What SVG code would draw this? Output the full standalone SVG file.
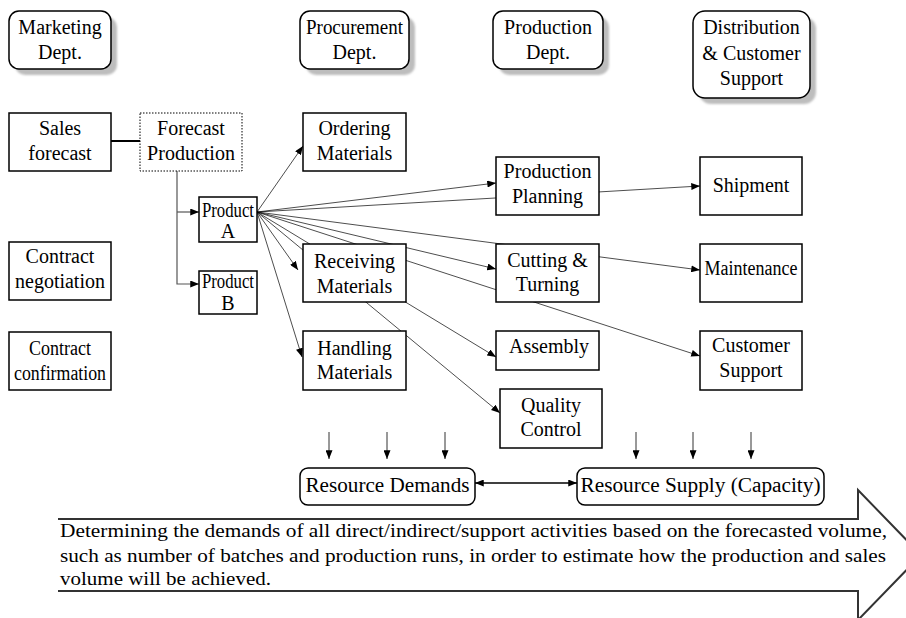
<svg xmlns="http://www.w3.org/2000/svg" width="906" height="618" viewBox="0 0 906 618">
<style>
text{font-family:"Liberation Serif","Tinos","Times New Roman","Nimbus Roman","DejaVu Serif",serif}
.t{font-size:20px;text-anchor:middle;fill:#000}
.box{fill:#fff;stroke:#000;stroke-width:1.5}
.dept{fill:#fff;stroke:#000;stroke-width:1.5}
.sh{fill:#bdbdbd;filter:url(#blur)}
.fan{fill:none;stroke:#000;stroke-width:0.7;marker-end:url(#ah)}
.down{fill:none;stroke:#333;stroke-width:1;marker-end:url(#ah)}
.gr{fill:none;stroke:#555;stroke-width:1.2}
.para{font-size:19px;fill:#000}
</style>
<defs>
<marker id="ah" viewBox="0 0 10 8" refX="10" refY="4" markerWidth="9" markerHeight="7" orient="auto-start-reverse" markerUnits="userSpaceOnUse"><path d="M0,0 L10,4 L0,8z" fill="#000"/></marker>
<filter id="blur" x="-10%" y="-10%" width="130%" height="130%"><feGaussianBlur stdDeviation="1.2"/></filter>
</defs>
<rect width="906" height="618" fill="#fff"/>

<g id="connectors">
<line x1="111" y1="141" x2="140" y2="141" stroke="#000" stroke-width="2"/>
<path class="gr" d="M177,171 V284 H199" marker-end="url(#ah)"/>
<path class="gr" d="M177,212 H199" marker-end="url(#ah)"/>
<line class="fan" x1="257" y1="212" x2="303" y2="146"/>
<line class="fan" x1="257" y1="212" x2="298" y2="270"/>
<line class="fan" x1="257" y1="212" x2="302" y2="357"/>
<line class="fan" x1="257" y1="212" x2="496" y2="183"/>
<line class="fan" x1="257" y1="212" x2="496" y2="269"/>
<line class="fan" x1="257" y1="212" x2="496" y2="357"/>
<line class="fan" x1="257" y1="212" x2="500" y2="413"/>
<line class="fan" x1="257" y1="212" x2="700" y2="186"/>
<line class="fan" x1="257" y1="212" x2="700" y2="270"/>
<line class="fan" x1="257" y1="212" x2="700" y2="356"/>
<line class="down" x1="329" y1="432" x2="329" y2="459"/>
<line class="down" x1="387" y1="432" x2="387" y2="459"/>
<line class="down" x1="445" y1="432" x2="445" y2="459"/>
<line class="down" x1="636" y1="432" x2="636" y2="459"/>
<line class="down" x1="693" y1="432" x2="693" y2="459"/>
<line class="down" x1="751" y1="432" x2="751" y2="459"/>
<line x1="475" y1="483" x2="577" y2="483" stroke="#000" stroke-width="1.5" marker-start="url(#ah)" marker-end="url(#ah)"/>
</g>

<g id="marketing-dept">
<rect class="sh" x="15" y="17" width="102" height="58" rx="10"/>
<rect class="dept" x="9" y="11" width="102" height="58" rx="10"/>
<text class="t" x="60" y="34">Marketing</text>
<text class="t" x="60" y="59">Dept.</text>
</g>
<g id="procurement-dept">
<rect class="sh" x="306" y="17" width="109" height="58" rx="10"/>
<rect class="dept" x="300" y="11" width="109" height="58" rx="10"/>
<text class="t" x="354.5" y="34" textLength="97" lengthAdjust="spacingAndGlyphs">Procurement</text>
<text class="t" x="354.5" y="59">Dept.</text>
</g>
<g id="production-dept">
<rect class="sh" x="499" y="17" width="110" height="58" rx="10"/>
<rect class="dept" x="493" y="11" width="110" height="58" rx="10"/>
<text class="t" x="548" y="34">Production</text>
<text class="t" x="548" y="59">Dept.</text>
</g>
<g id="distribution-dept">
<rect class="sh" x="699" y="17" width="117" height="87" rx="12"/>
<rect class="dept" x="693" y="11" width="117" height="87" rx="12"/>
<text class="t" x="751.5" y="34">Distribution</text>
<text class="t" x="751.5" y="60">&amp; Customer</text>
<text class="t" x="751.5" y="85">Support</text>
</g>

<g id="sales-forecast">
<rect class="box" x="9" y="113" width="102" height="58"/>
<text class="t" x="60" y="135">Sales</text>
<text class="t" x="60" y="160">forecast</text>
</g>
<g id="forecast-production">
<rect x="140" y="113" width="102" height="58" fill="#fff" stroke="#000" stroke-width="1" stroke-dasharray="1.5,1.5"/>
<text class="t" x="191" y="135">Forecast</text>
<text class="t" x="191" y="160">Production</text>
</g>
<g id="product-a">
<rect class="box" x="199" y="197" width="58" height="45"/>
<text class="t" x="228" y="217" textLength="52" lengthAdjust="spacingAndGlyphs">Product</text>
<text class="t" x="228" y="238">A</text>
</g>
<g id="product-b">
<rect class="box" x="199" y="271" width="58" height="43"/>
<text class="t" x="228" y="288" textLength="52" lengthAdjust="spacingAndGlyphs">Product</text>
<text class="t" x="228" y="310">B</text>
</g>
<g id="contract-negotiation">
<rect class="box" x="9" y="242" width="102" height="58"/>
<text class="t" x="60" y="263">Contract</text>
<text class="t" x="60" y="288">negotiation</text>
</g>
<g id="contract-confirmation">
<rect class="box" x="9" y="332" width="102" height="58"/>
<text class="t" x="60" y="355" textLength="62" lengthAdjust="spacingAndGlyphs">Contract</text>
<text class="t" x="60" y="380" textLength="92" lengthAdjust="spacingAndGlyphs">confirmation</text>
</g>
<g id="ordering-materials">
<rect class="box" x="303" y="113" width="103" height="58"/>
<text class="t" x="354.5" y="135">Ordering</text>
<text class="t" x="354.5" y="160">Materials</text>
</g>
<g id="receiving-materials">
<rect class="box" x="303" y="244" width="103" height="58"/>
<text class="t" x="354.5" y="268">Receiving</text>
<text class="t" x="354.5" y="293">Materials</text>
</g>
<g id="handling-materials">
<rect class="box" x="303" y="331" width="103" height="59"/>
<text class="t" x="354.5" y="355">Handling</text>
<text class="t" x="354.5" y="379">Materials</text>
</g>
<g id="production-planning">
<rect class="box" x="496" y="157" width="103" height="58"/>
<text class="t" x="547.5" y="178">Production</text>
<text class="t" x="547.5" y="203">Planning</text>
</g>
<g id="cutting-turning">
<rect class="box" x="496" y="244" width="103" height="58"/>
<text class="t" x="547.5" y="267">Cutting &amp;</text>
<text class="t" x="547.5" y="291">Turning</text>
</g>
<g id="assembly">
<rect class="box" x="496" y="331" width="103" height="39"/>
<text class="t" x="549" y="353">Assembly</text>
</g>
<g id="quality-control">
<rect class="box" x="500" y="389" width="102" height="59"/>
<text class="t" x="551" y="412">Quality</text>
<text class="t" x="551" y="436">Control</text>
</g>
<g id="shipment">
<rect class="box" x="700" y="157" width="102" height="58"/>
<text class="t" x="751" y="192">Shipment</text>
</g>
<g id="maintenance">
<rect class="box" x="700" y="244" width="102" height="58"/>
<text class="t" x="751" y="275" textLength="93" lengthAdjust="spacingAndGlyphs">Maintenance</text>
</g>
<g id="customer-support">
<rect class="box" x="700" y="331" width="102" height="59"/>
<text class="t" x="751" y="352">Customer</text>
<text class="t" x="751" y="377">Support</text>
</g>

<g id="resource-demands">
<rect class="box" x="300" y="468" width="175" height="37" rx="8"/>
<text class="t" x="387.5" y="492" textLength="164" lengthAdjust="spacingAndGlyphs">Resource Demands</text>
</g>
<g id="resource-supply">
<rect class="box" x="577" y="468" width="247" height="37" rx="8"/>
<text class="t" x="700.5" y="492" textLength="240" lengthAdjust="spacingAndGlyphs">Resource Supply (Capacity)</text>
</g>

<g id="big-arrow">
<path d="M58,519 L858,519 L858,490 L921,555 L858,620 L858,591 L58,591" fill="#fff" stroke="#333" stroke-width="2"/>
<text class="para" x="60" y="537" textLength="827" lengthAdjust="spacingAndGlyphs">Determining the demands of all direct/indirect/support activities based on the forecasted volume,</text>
<text class="para" x="60" y="562" textLength="826" lengthAdjust="spacingAndGlyphs">such as number of batches and production runs, in order to estimate how the production and sales</text>
<text class="para" x="60" y="585" textLength="211" lengthAdjust="spacingAndGlyphs">volume will be achieved.</text>
</g>
</svg>
